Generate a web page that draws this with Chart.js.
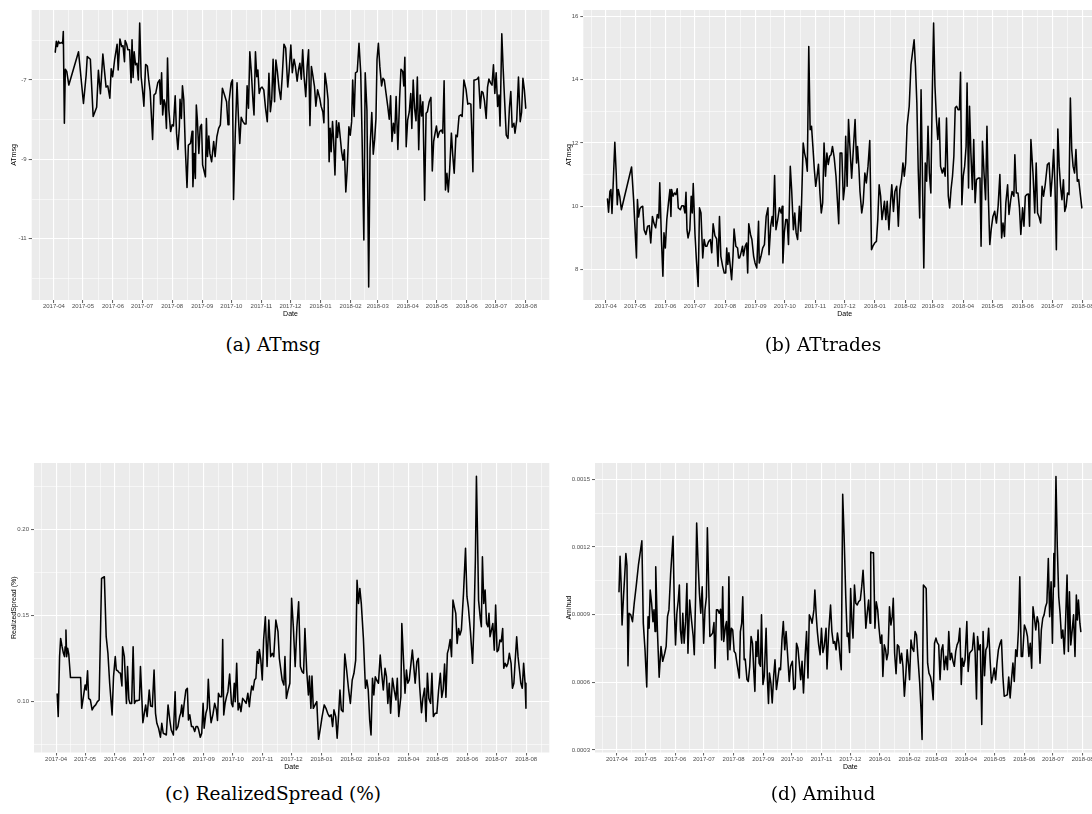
<!DOCTYPE html>
<html><head><meta charset="utf-8">
<script src="https://cdn.jsdelivr.net/npm/chart.js@4.4.1/dist/chart.umd.min.js"></script>
<style>
html,body{margin:0;padding:0;background:#fff;overflow:hidden;}
#wrap{position:relative;width:1092px;height:814px;overflow:hidden;background:#fff;}
canvas{position:absolute;}
.cap{position:absolute;width:546px;text-align:center;font-family:"DejaVu Serif",serif;font-size:18.5px;line-height:22px;color:#000;}
</style></head>
<body><div id="wrap">
<canvas id="ca" width="560" height="330" style="left:0px;top:0px"></canvas>
<canvas id="cb" width="570" height="330" style="left:546px;top:0px"></canvas>
<canvas id="cc" width="560" height="330" style="left:0px;top:450px"></canvas>
<canvas id="cd" width="570" height="330" style="left:546px;top:450px"></canvas>
<div class="cap" style="left:0px;top:334px">(a) ATmsg</div>
<div class="cap" style="left:550px;top:334px">(b) ATtrades</div>
<div class="cap" style="left:0px;top:783px">(c) RealizedSpread (%)</div>
<div class="cap" style="left:550px;top:783px">(d) Amihud</div>
</div>
<script>
// ---- time axis (days since 2017-04-01) ----
const monthDays = [0,30,61,91,122,153,183,214,244,275,306,334,365,395,426,456,487];
const monthLabels = ['2017-04','2017-05','2017-06','2017-07','2017-08','2017-09','2017-10','2017-11','2017-12','2018-01','2018-02','2018-03','2018-04','2018-05','2018-06','2018-07','2018-08'];

// ---- (a) ATmsg ----
const aDays = [1.4,2.5,3.6,4.7,6.1,7.9,9.0,9.7,10.8,11.8,13.3,15.4,25.4,30.5,33.3,34.4,37.6,40.5,44.1,45.9,48.0,50.5,53.8,55.6,57.7,59.1,60.6,62.7,65.2,66.3,68.1,69.9,71.3,72.8,73.5,74.9,76.3,78.1,79.6,80.6,81.7,82.8,84.2,85.7,87.1,88.5,90.0,91.8,92.8,94.6,96.4,97.8,99.3,101.8,103.2,105.0,107.2,109.0,110.0,111.1,112.2,113.6,114.7,116.1,117.2,118.6,120.4,121.9,123.3,125.1,126.5,127.9,129.4,130.1,131.5,132.6,134.0,135.5,137.3,138.7,140.9,142.6,143.4,144.8,145.9,146.9,148.0,149.5,150.9,152.3,153.4,156.3,157.3,158.4,159.8,160.9,162.7,164.8,166.3,168.1,169.9,171.7,173.8,175.6,178.1,179.6,180.6,182.8,184.2,185.3,187.1,188.9,190.3,191.7,193.2,195.0,196.8,198.2,199.3,200.7,202.1,203.6,205.4,206.4,207.9,209.3,210.4,211.8,213.2,214.7,216.5,218.3,220.1,221.8,223.3,224.7,226.1,227.6,229.0,230.5,232.2,234.0,235.5,237.3,239.1,241.2,242.6,244.4,245.9,247.7,249.1,250.9,252.3,253.7,255.2,256.6,258.0,259.8,261.3,262.7,264.1,265.6,267.0,268.8,270.2,272.0,274.2,275.6,277.4,278.5,279.6,281.3,282.8,283.9,284.9,286.0,287.4,288.5,289.9,291.4,292.5,293.9,295.3,296.8,298.2,299.6,301.1,302.5,304.3,305.7,307.1,308.2,309.7,311.1,312.9,314.7,316.5,317.9,319.7,321.1,322.9,324.7,326.1,327.9,329.4,330.8,332.2,333.3,334.7,336.2,338.0,339.4,340.8,342.6,344.4,345.9,347.3,348.7,350.2,351.6,353.0,354.8,356.6,358.0,359.8,360.9,362.0,363.4,364.9,366.6,368.1,369.2,370.6,372.0,373.5,374.9,376.3,377.8,379.2,380.6,382.4,383.9,385.3,387.1,388.9,390.3,391.7,393.2,394.6,396.0,397.8,399.6,401.1,402.5,403.9,405.4,406.8,408.2,410.0,411.4,412.9,414.7,416.1,417.9,419.7,421.1,422.9,425.1,426.9,428.3,430.1,431.2,432.2,433.3,434.7,436.5,438.0,439.8,441.2,442.6,444.1,445.9,447.3,448.7,450.5,451.9,453.4,454.8,456.2,457.7,459.1,460.2,462.0,463.4,464.8,466.6,468.4,469.9,471.3,472.7,474.5,475.6,477.4,479.2,481.0,482.4,483.8,485.3,486.7];
const aVals = [-6.30,-6.03,-6.16,-6.03,-6.08,-6.06,-6.08,-5.78,-8.09,-6.73,-6.79,-7.13,-6.29,-7.59,-6.87,-6.41,-6.48,-7.92,-7.69,-6.76,-7.35,-6.35,-7.18,-7.15,-7.46,-6.72,-6.92,-6.48,-6.10,-6.75,-5.97,-6.16,-6.14,-6.54,-6.01,-6.09,-6.24,-6.24,-7.07,-5.99,-6.94,-6.29,-6.62,-6.58,-7.00,-5.57,-6.92,-7.35,-7.66,-6.61,-6.65,-7.00,-7.29,-8.50,-7.38,-7.34,-7.07,-7.00,-7.61,-6.82,-7.88,-7.50,-7.59,-8.22,-6.45,-7.76,-8.30,-8.13,-8.16,-7.40,-8.34,-8.75,-8.18,-7.49,-7.97,-7.15,-7.50,-8.68,-9.71,-8.64,-8.60,-8.29,-9.69,-8.85,-9.48,-7.63,-8.01,-8.85,-8.18,-8.12,-9.14,-9.44,-7.97,-8.93,-8.41,-8.85,-9.06,-8.55,-8.93,-8.43,-8.22,-8.13,-7.21,-7.35,-7.55,-8.13,-7.55,-7.08,-7.00,-10.01,-8.34,-7.07,-7.92,-8.60,-7.94,-8.05,-8.11,-8.11,-7.15,-7.71,-6.29,-6.79,-7.55,-7.88,-6.29,-6.92,-6.75,-7.34,-7.21,-7.18,-7.25,-7.71,-8.05,-6.83,-7.80,-7.49,-6.48,-7.55,-6.50,-6.79,-7.21,-7.49,-6.92,-6.10,-6.20,-7.18,-6.79,-6.12,-6.82,-6.48,-6.66,-7.03,-6.75,-6.58,-6.98,-6.24,-6.90,-7.42,-6.65,-6.24,-8.15,-6.66,-6.87,-7.17,-7.66,-7.25,-7.46,-7.66,-7.80,-8.08,-6.83,-7.13,-7.50,-9.06,-8.22,-8.81,-8.05,-8.51,-9.39,-8.03,-8.45,-8.08,-8.43,-8.81,-9.02,-8.76,-9.82,-9.27,-8.18,-8.39,-8.05,-7.00,-7.92,-6.82,-6.79,-6.08,-6.82,-8.47,-11.03,-6.82,-7.76,-12.21,-8.72,-7.82,-8.87,-8.51,-7.97,-6.48,-6.08,-6.66,-7.15,-6.96,-7.00,-7.34,-7.67,-7.99,-7.40,-8.55,-8.09,-8.34,-7.42,-8.75,-7.46,-6.73,-6.79,-7.15,-6.43,-8.68,-8.01,-7.80,-7.34,-8.22,-7.00,-7.71,-8.03,-6.93,-8.76,-7.38,-7.91,-7.55,-10.03,-7.84,-7.80,-7.55,-7.44,-9.29,-8.55,-8.34,-8.16,-8.45,-8.30,-8.26,-8.34,-7.02,-9.77,-9.35,-9.82,-9.27,-8.34,-8.89,-9.35,-8.39,-8.43,-7.91,-7.88,-7.92,-7.00,-7.24,-7.61,-7.59,-7.61,-8.43,-9.31,-7.00,-7.00,-6.98,-6.93,-7.71,-7.29,-7.32,-7.52,-7.97,-7.18,-6.98,-7.08,-7.13,-6.62,-7.34,-6.82,-7.67,-7.38,-8.16,-5.84,-6.71,-7.46,-8.39,-8.47,-7.69,-7.29,-8.19,-8.09,-8.34,-8.01,-6.93,-8.05,-7.82,-6.96,-7.25,-7.71];
const aYMajor = [-11,-9,-7];
const aYLabels = ['-11','-9','-7'];
const aYMinor = [-12,-10,-8,-6];

// ---- (b) ATtrades ----
const bDays = [1.8,2.9,4.3,5.3,6.4,7.8,9.3,10.7,11.8,12.8,14.3,16.0,26.4,28.5,31.4,32.4,33.5,34.9,36.3,37.8,39.2,41.0,42.8,44.5,46.0,47.7,49.2,51.0,52.7,54.2,55.2,57.0,58.4,59.5,60.9,62.4,64.1,65.6,66.6,67.3,68.8,70.2,71.6,73.0,74.1,76.2,77.7,79.5,80.9,82.0,83.0,84.1,85.9,87.3,88.4,89.4,91.2,92.6,94.4,95.8,97.3,99.1,100.5,101.9,103.3,105.1,106.9,108.3,109.7,111.5,113.3,114.7,116.2,117.6,119.4,121.1,122.6,123.6,124.7,125.8,127.2,128.6,130.0,131.1,132.9,134.7,135.7,136.8,138.2,139.7,140.7,142.5,143.9,145.0,146.1,147.9,149.3,151.1,152.5,154.3,156.1,156.8,158.6,160.3,162.1,163.9,165.7,166.8,168.5,170.0,171.0,172.5,173.9,175.7,177.4,179.2,180.3,181.0,182.4,183.9,185.3,186.7,188.5,189.9,191.7,193.1,194.5,196.0,197.8,199.2,200.6,201.7,203.1,204.5,205.9,207.4,208.8,210.2,211.6,213.1,214.5,215.9,217.3,218.8,220.2,221.6,223.0,224.5,225.9,227.3,228.7,230.2,231.6,233.4,235.2,236.6,238.0,239.4,241.2,242.7,244.1,245.1,246.6,248.0,249.4,251.2,253.0,254.7,256.2,257.2,258.7,259.7,261.5,263.0,264.7,266.2,267.9,269.7,271.5,272.9,274.7,276.5,277.9,279.3,280.8,282.2,283.6,284.7,286.1,287.5,289.3,290.7,292.2,293.9,295.4,297.2,298.9,300.4,302.1,303.6,305.0,306.4,307.8,310.0,311.8,313.5,315.0,316.4,317.8,319.2,320.7,322.1,323.5,324.9,326.4,327.8,329.2,330.6,332.1,333.5,334.9,336.3,337.8,339.2,340.6,342.0,343.8,345.3,346.7,348.1,349.9,351.3,352.7,354.2,355.6,357.0,358.4,359.9,361.3,362.4,363.8,365.2,366.6,368.1,369.1,370.6,371.6,373.0,374.5,375.9,377.3,378.7,380.5,382.3,383.4,384.8,386.6,388.0,389.4,390.9,392.3,393.7,395.5,397.3,399.1,400.8,402.6,404.4,405.8,407.3,408.7,410.5,411.9,413.7,415.1,416.9,417.9,419.4,421.1,422.6,424.0,425.8,427.2,428.6,430.1,431.8,432.9,434.3,436.5,438.2,439.7,441.1,442.5,444.3,445.7,447.2,448.9,451.1,452.9,454.6,456.1,457.5,458.9,460.3,461.8,463.2,464.6,466.0,467.5,468.9,470.3,471.7,473.2,474.6,476.0,477.4,478.9,480.3,481.7,483.1,484.6,486.3];
const bVals = [10.23,9.81,10.47,10.53,9.77,10.84,12.02,11.05,10.05,10.53,10.32,9.89,11.24,10.21,8.37,10.21,9.66,9.92,9.98,10.0,9.26,9.11,9.37,9.39,8.84,9.68,9.47,9.32,9.74,9.63,10.74,8.89,7.79,9.16,8.68,9.58,10.11,10.53,9.68,10.53,10.32,10.42,10.37,10.55,9.95,9.89,10.02,10.02,9.79,10.44,9.26,9.00,9.26,10.32,9.79,10.72,9.11,8.32,7.47,9.95,9.79,8.37,8.95,8.74,8.74,8.89,8.95,8.53,9.45,9.07,8.97,8.11,9.68,8.42,8.11,7.89,7.89,8.68,8.16,8.53,8.11,7.68,8.42,9.28,8.74,8.68,8.37,8.37,8.53,8.74,8.44,8.74,8.84,7.89,9.45,9.11,8.95,8.42,8.21,8.05,9.53,8.21,8.42,8.68,8.79,9.68,9.95,8.47,9.37,9.68,9.37,10.97,9.26,9.58,9.95,9.79,10.0,8.21,9.16,9.58,9.58,8.79,11.26,10.53,9.26,9.79,9.16,8.95,10.0,9.21,10.74,12.0,11.68,11.49,11.11,15.05,12.42,12.53,11.89,11.16,10.63,10.95,11.33,10.42,9.79,10.11,12.0,10.95,11.68,11.32,11.58,11.63,11.89,11.53,10.95,10.21,9.45,11.68,11.68,10.21,10.63,12.21,10.63,12.74,11.89,10.89,11.84,12.74,11.37,11.89,11.16,10.47,9.79,10.11,11.05,10.74,11.26,12.08,8.63,8.74,8.84,8.89,9.58,10.68,10.32,9.58,9.89,10.16,9.58,10.16,9.26,10.05,10.68,9.84,10.47,10.63,9.37,10.53,10.84,11.37,10.95,11.37,12.53,13.16,14.47,14.89,15.26,14.42,13.26,11.16,9.63,13.68,10.95,8.05,11.37,10.79,12.53,11.05,10.42,13.47,15.79,13.79,12.74,12.11,12.79,11.26,11.05,11.21,10.95,12.79,10.32,9.95,10.53,10.95,11.58,13.11,13.16,13.05,13.05,14.23,10.05,10.95,11.26,11.89,13.89,10.58,13.16,11.68,10.53,12.11,10.11,10.84,10.89,10.89,8.74,12.05,10.95,10.21,12.53,10.21,8.79,9.26,9.68,9.84,9.47,10.0,11.0,9.0,9.47,9.05,10.11,10.68,9.74,10.21,10.47,10.32,11.63,10.42,10.42,9.95,9.11,9.95,9.37,10.32,10.37,10.39,9.37,12.11,11.0,9.79,11.37,9.79,9.68,9.47,10.63,10.32,10.68,11.32,11.37,10.32,10.95,11.79,10.63,8.63,12.44,11.26,10.63,10.21,10.84,9.84,10.0,10.42,10.37,13.42,11.79,11.26,11.05,11.79,10.79,10.84,10.42,9.95];
const bYMajor = [8,10,12,14,16];
const bYLabels = ['8','10','12','14','16'];
const bYMinor = [9,11,13,15];

// ---- (c) RealizedSpread (%) ----
const cDays = [1.1,2.2,3.6,4.7,6.2,7.6,8.7,9.4,10.2,10.9,12.0,13.1,14.9,25.4,26.5,28.3,30.1,31.2,32.6,33.7,35.5,37.3,39.2,41.0,42.8,44.6,47.1,50.0,51.9,53.7,55.5,58.0,59.5,61.3,62.4,63.8,65.3,66.7,68.2,68.9,70.7,72.9,74.0,75.4,76.5,78.3,79.8,81.2,82.7,84.5,86.3,87.4,88.5,89.9,91.4,92.8,94.3,95.4,96.5,97.9,99.7,101.5,103.0,104.4,106.2,108.1,109.5,111.0,112.4,114.2,116.0,117.8,119.3,121.5,123.3,124.4,126.2,128.0,129.1,130.2,131.3,132.7,134.5,136.0,137.1,138.5,140.3,141.8,143.6,145.0,146.5,147.6,149.4,150.9,152.3,153.4,155.2,156.6,157.7,159.2,160.6,162.4,164.3,166.1,167.2,168.2,169.7,171.5,172.6,173.7,175.1,176.6,178.0,179.8,181.7,183.1,184.6,185.6,187.1,188.6,190.0,191.5,193.3,195.1,196.9,198.7,200.2,201.2,202.7,204.1,205.6,207.0,208.5,209.6,210.6,212.1,213.6,215.0,216.8,218.6,220.4,222.3,224.1,225.5,227.7,229.9,231.3,234.2,236.0,237.1,238.6,240.4,242.2,244.0,245.8,247.7,249.5,251.3,253.1,254.9,256.4,257.8,259.6,261.4,262.5,264.0,265.1,266.5,268.3,270.1,271.9,273.8,275.6,277.8,279.6,281.4,283.2,285.0,286.5,287.9,289.7,291.2,292.6,294.1,295.5,297.3,299.1,301.0,303.1,304.9,306.8,308.6,310.4,311.8,313.3,314.7,316.2,318.4,320.5,322.0,323.4,324.9,326.3,327.8,329.2,330.7,332.1,334.0,335.8,337.2,339.0,340.8,342.3,343.7,345.2,346.6,348.5,350.3,352.1,353.5,355.0,357.2,358.2,360.1,361.5,363.0,364.4,365.9,367.7,369.1,370.6,372.0,373.8,375.3,376.7,378.6,380.0,381.8,383.3,384.7,386.2,388.0,389.4,390.9,392.7,394.5,396.3,398.1,399.6,401.0,402.5,403.9,405.4,406.8,408.3,409.7,411.2,412.6,414.1,415.5,417.0,418.4,419.9,422.1,424.2,425.7,427.1,429.3,431.5,432.9,434.4,435.5,436.6,437.7,439.5,440.6,441.7,443.1,444.5,446.0,447.4,448.5,449.6,451.1,452.5,454.0,455.4,456.9,458.3,459.8,461.2,462.7,463.8,465.2,466.7,468.1,469.6,471.4,472.8,474.3,475.7,477.2,478.6,480.1,481.5,483.0,484.4,485.9,486.8];
const cVals = [0.1043,0.0911,0.1260,0.1366,0.1318,0.1279,0.1260,0.1318,0.1415,0.1260,0.1308,0.1275,0.1138,0.1138,0.0959,0.1027,0.1095,0.1066,0.1178,0.1017,0.1008,0.0950,0.0969,0.0979,0.0998,0.1008,0.1715,0.1725,0.1376,0.1279,0.1105,0.0921,0.1143,0.1260,0.1182,0.1178,0.1167,0.1163,0.1089,0.1318,0.1260,0.0988,0.1202,0.1012,0.0988,0.0988,0.1318,0.0988,0.1004,0.1004,0.1008,0.1202,0.1066,0.0876,0.0930,0.0979,0.0911,0.0988,0.1066,0.0973,0.0969,0.1182,0.0930,0.0872,0.0843,0.0791,0.0872,0.0814,0.0810,0.0804,0.0979,0.0891,0.0833,0.0804,0.1056,0.0833,0.0853,0.0911,0.0930,0.0979,0.0911,0.0988,0.1066,0.1076,0.0891,0.0921,0.0853,0.0853,0.0824,0.0853,0.0853,0.0837,0.0791,0.0814,0.0988,0.0843,0.0930,0.0959,0.1128,0.0959,0.0876,0.0921,0.0988,0.0950,0.0888,0.1047,0.1027,0.1027,0.1360,0.0921,0.0988,0.1027,0.1056,0.1159,0.0988,0.0969,0.1105,0.0998,0.1221,0.0950,0.0988,0.0940,0.1017,0.1004,0.0988,0.1047,0.0969,0.1027,0.1089,0.1066,0.1124,0.1134,0.1289,0.1221,0.1302,0.1240,0.1124,0.1357,0.1492,0.1202,0.1473,0.1260,0.1279,0.1260,0.1473,0.1405,0.1250,0.1124,0.1095,0.1260,0.1017,0.1066,0.1105,0.1599,0.1434,0.1202,0.1434,0.1579,0.1202,0.1172,0.1163,0.1424,0.1182,0.1037,0.1147,0.0959,0.1147,0.0959,0.0979,0.0998,0.0779,0.0843,0.0911,0.0979,0.0959,0.0930,0.0911,0.0921,0.0853,0.0950,0.0911,0.0785,0.0911,0.1066,0.0950,0.0940,0.1275,0.1182,0.1066,0.0988,0.1124,0.1163,0.1240,0.1705,0.1570,0.1657,0.1570,0.1366,0.1076,0.1124,0.1066,0.0891,0.0804,0.1134,0.1037,0.1143,0.1124,0.1105,0.1269,0.1172,0.1066,0.1192,0.1143,0.0988,0.1105,0.0930,0.1134,0.1066,0.1008,0.1134,0.0911,0.1027,0.1453,0.1221,0.1047,0.1182,0.1105,0.1124,0.1221,0.1298,0.1202,0.1105,0.1231,0.1250,0.1085,0.0934,0.1017,0.1076,0.0882,0.1163,0.1017,0.0988,0.1163,0.0911,0.0930,0.0930,0.1066,0.1163,0.1023,0.1066,0.1217,0.1023,0.1279,0.1308,0.1360,0.1260,0.1589,0.1550,0.1512,0.1337,0.1424,0.1386,0.1415,0.1628,0.1890,0.1609,0.1550,0.1405,0.1221,0.1444,0.1822,0.2310,0.1977,0.1589,0.1483,0.1434,0.1841,0.1570,0.1647,0.1453,0.1434,0.1512,0.1376,0.1415,0.1453,0.1298,0.1560,0.1289,0.1298,0.1357,0.1347,0.1424,0.1192,0.1221,0.1202,0.1221,0.1279,0.1221,0.1076,0.1105,0.1240,0.1376,0.1260,0.1182,0.1105,0.1076,0.1221,0.1105,0.0959];
const cYMajor = [0.10,0.15,0.20];
const cYLabels = ['0.10','0.15','0.20'];
const cYMinor = [0.075,0.125,0.175,0.225];

// ---- (d) Amihud ----
const dDays = [2.2,3.3,4.4,5.4,6.9,8.0,9.4,10.5,11.6,12.7,14.5,16.3,18.1,20.3,22.5,24.7,26.1,27.6,29.4,31.2,32.6,33.7,34.8,36.3,37.7,38.8,39.9,40.6,42.4,44.2,46.1,47.9,50.0,51.5,52.9,54.4,56.2,58.7,60.2,61.3,62.7,64.2,65.3,66.4,67.8,68.9,70.3,71.8,73.2,74.3,76.1,78.0,79.8,80.9,82.3,83.4,84.8,86.3,87.7,89.2,90.7,92.1,93.6,94.6,96.1,97.2,98.6,100.1,101.5,102.6,104.1,105.5,107.0,108.4,109.5,110.6,111.7,113.5,114.6,116.0,117.1,118.2,119.7,121.1,122.6,124.0,125.5,126.9,128.0,129.1,130.5,131.6,133.1,134.2,136.0,137.4,138.9,140.3,141.8,143.2,144.3,145.4,146.5,147.6,148.7,150.1,151.2,152.7,154.1,156.0,157.4,158.5,159.5,161.0,162.4,163.9,165.3,166.8,168.2,169.7,171.1,172.6,174.0,175.5,176.9,178.4,180.2,181.6,183.5,184.9,186.4,187.8,189.3,190.7,192.2,193.6,195.1,196.9,198.3,199.8,201.2,202.7,204.1,206.0,207.0,208.5,209.6,211.0,212.5,213.9,215.4,216.8,218.7,219.7,221.5,223.4,224.8,226.3,227.7,229.2,230.6,232.1,233.5,234.6,236.1,237.5,239.3,240.8,241.9,243.3,244.4,245.8,246.9,248.4,249.8,251.3,252.7,254.5,256.0,257.4,258.9,260.3,261.8,263.2,264.7,265.4,266.9,268.3,269.8,271.2,272.7,274.1,275.6,277.0,278.1,279.6,281.0,282.1,283.5,285.0,286.5,287.9,289.0,290.4,291.9,293.3,294.8,296.2,297.7,299.1,300.6,302.0,303.5,304.9,306.0,307.5,308.9,310.4,311.8,313.3,314.7,316.6,318.0,319.1,320.5,322.0,323.4,324.9,326.3,327.8,329.2,330.7,332.1,333.6,335.0,336.5,337.9,339.4,340.8,342.3,344.1,345.6,347.0,348.5,349.9,351.4,352.8,354.3,355.7,357.2,358.6,360.1,361.1,362.6,364.0,365.9,367.3,368.8,370.2,371.7,373.1,374.6,376.0,377.1,378.6,380.0,381.5,382.9,384.4,385.8,387.3,388.7,390.2,391.6,393.1,394.5,396.0,397.4,398.9,400.7,402.1,403.6,405.0,406.5,408.3,409.7,411.2,412.6,414.1,415.5,417.0,418.4,419.9,421.3,422.8,424.2,426.1,427.9,429.3,430.8,432.2,433.7,435.1,436.6,438.0,439.5,440.9,442.4,443.8,445.3,446.7,448.2,449.6,451.1,452.5,454.0,455.4,456.9,457.6,459.1,460.5,462.0,463.4,464.9,466.3,467.8,469.2,470.7,472.1,473.2,474.6,476.1,477.5,479.0,480.4,481.5,482.6,484.1,485.1];
const dVals = [10.01e-4,11.59e-4,10.38e-4,8.54e-4,9.79e-4,10.60e-4,11.71e-4,11.19e-4,6.73e-4,9.06e-4,8.99e-4,8.69e-4,9.50e-4,10.31e-4,11.19e-4,11.85e-4,12.27e-4,8.62e-4,7.44e-4,5.79e-4,8.91e-4,8.40e-4,10.09e-4,9.50e-4,8.69e-4,9.21e-4,8.25e-4,11.12e-4,8.25e-4,6.23e-4,7.59e-4,6.93e-4,7.29e-4,7.59e-4,8.91e-4,9.21e-4,10.82e-4,12.47e-4,9.06e-4,7.66e-4,9.06e-4,9.65e-4,10.31e-4,8.32e-4,7.73e-4,9.06e-4,7.73e-4,8.69e-4,10.38e-4,7.29e-4,9.65e-4,8.76e-4,8.03e-4,7.22e-4,9.79e-4,13.06e-4,11.41e-4,9.94e-4,9.06e-4,10.24e-4,7.73e-4,9.21e-4,9.79e-4,12.85e-4,10.09e-4,8.03e-4,8.10e-4,8.18e-4,8.65e-4,6.63e-4,9.21e-4,9.21e-4,9.06e-4,9.24e-4,7.88e-4,10.24e-4,7.81e-4,8.47e-4,8.69e-4,7.00e-4,10.68e-4,7.44e-4,8.40e-4,8.32e-4,7.37e-4,7.29e-4,6.85e-4,6.48e-4,6.19e-4,8.25e-4,8.62e-4,9.79e-4,7.00e-4,7.03e-4,6.12e-4,6.04e-4,6.71e-4,8.03e-4,7.73e-4,6.44e-4,5.60e-4,7.81e-4,7.15e-4,8.32e-4,6.85e-4,6.71e-4,8.99e-4,5.90e-4,6.26e-4,8.40e-4,6.12e-4,5.06e-4,6.41e-4,5.97e-4,5.09e-4,6.26e-4,7.00e-4,5.68e-4,6.12e-4,6.63e-4,6.56e-4,7.88e-4,8.69e-4,7.44e-4,8.25e-4,7.29e-4,6.04e-4,6.71e-4,6.93e-4,5.68e-4,5.75e-4,7.73e-4,7.51e-4,6.85e-4,6.12e-4,6.93e-4,5.53e-4,7.22e-4,8.25e-4,6.19e-4,8.99e-4,8.84e-4,8.62e-4,9.21e-4,10.09e-4,8.91e-4,8.25e-4,7.66e-4,7.22e-4,8.40e-4,7.32e-4,7.59e-4,8.40e-4,6.59e-4,8.25e-4,9.43e-4,8.25e-4,7.73e-4,7.81e-4,7.44e-4,8.18e-4,7.73e-4,7.00e-4,6.56e-4,14.33e-4,12.59e-4,9.79e-4,8.03e-4,8.18e-4,7.32e-4,10.16e-4,8.62e-4,7.96e-4,10.31e-4,9.50e-4,9.43e-4,9.57e-4,9.65e-4,10.24e-4,10.97e-4,9.79e-4,8.40e-4,9.09e-4,9.65e-4,8.62e-4,11.78e-4,11.74e-4,11.74e-4,8.40e-4,9.57e-4,9.21e-4,8.40e-4,7.73e-4,8.10e-4,6.26e-4,7.66e-4,7.44e-4,7.00e-4,7.29e-4,9.35e-4,8.54e-4,8.91e-4,9.72e-4,7.29e-4,6.38e-4,7.66e-4,7.59e-4,6.85e-4,7.29e-4,6.71e-4,5.38e-4,6.26e-4,7.44e-4,6.78e-4,6.12e-4,7.88e-4,7.51e-4,7.37e-4,8.25e-4,8.10e-4,7.15e-4,5.97e-4,4.79e-4,3.47e-4,10.31e-4,10.24e-4,10.16e-4,6.85e-4,6.41e-4,6.26e-4,5.97e-4,5.23e-4,7.73e-4,7.96e-4,7.76e-4,7.66e-4,6.12e-4,7.44e-4,7.66e-4,6.56e-4,7.15e-4,6.56e-4,8.25e-4,7.00e-4,7.29e-4,6.93e-4,6.71e-4,7.37e-4,7.66e-4,7.81e-4,8.40e-4,5.90e-4,7.07e-4,6.71e-4,7.00e-4,8.69e-4,6.48e-4,7.29e-4,7.37e-4,7.44e-4,8.18e-4,7.29e-4,5.26e-4,8.03e-4,7.44e-4,7.66e-4,4.13e-4,8.25e-4,6.29e-4,7.44e-4,7.59e-4,8.40e-4,7.00e-4,5.97e-4,6.26e-4,6.63e-4,6.12e-4,6.85e-4,7.44e-4,7.73e-4,7.88e-4,6.26e-4,5.38e-4,5.41e-4,5.45e-4,6.23e-4,5.31e-4,6.12e-4,6.85e-4,6.04e-4,7.44e-4,7.15e-4,8.32e-4,10.68e-4,7.15e-4,7.15e-4,8.54e-4,8.32e-4,8.03e-4,7.15e-4,7.73e-4,6.63e-4,9.35e-4,8.84e-4,8.32e-4,8.91e-4,8.62e-4,6.85e-4,8.32e-4,8.84e-4,8.99e-4,9.35e-4,9.53e-4,11.49e-4,8.91e-4,10.46e-4,7.73e-4,11.71e-4,10.24e-4,15.12e-4,12.00e-4,9.79e-4,9.06e-4,7.96e-4,8.32e-4,7.26e-4,8.76e-4,10.75e-4,7.37e-4,10.01e-4,7.66e-4,8.32e-4,8.99e-4,7.15e-4,9.87e-4,8.76e-4,9.65e-4,8.62e-4,8.25e-4];
const dYMajor = [0.0003,0.0006,0.0009,0.0012,0.0015];
const dYLabels = ['0.0003','0.0006','0.0009','0.0012','0.0015'];
const dYMinor = [0.00045,0.00075,0.00105,0.00135];

// ---------------------------------------------------------------
const TICK_FONT = {family:'"Liberation Sans", Arial, sans-serif', size:6};
const TITLE_FONT = {family:'"Liberation Sans", Arial, sans-serif', size:7};

const bgPlugin = {
  id:'panelBg',
  beforeDraw(chart){
    const {ctx, chartArea:a} = chart;
    ctx.save();
    ctx.fillStyle = '#EBEBEB';
    ctx.fillRect(a.left, a.top, a.right - a.left, a.bottom - a.top);
    ctx.restore();
  }
};

function tickList(major, labels, minor){
  const t = major.map((v,i)=>({value:v, lbl:labels[i]})).concat(minor.map(v=>({value:v, lbl:''})));
  t.sort((p,q)=>p.value-q.value);
  return t;
}
function xTickList(){
  const minor = [];
  minor.push(monthDays[0] - (monthDays[1]-monthDays[0])/2);
  for (let i=0;i<monthDays.length-1;i++) minor.push((monthDays[i]+monthDays[i+1])/2);
  minor.push(monthDays[monthDays.length-1] + 15.5);
  return tickList(monthDays, monthLabels, minor);
}
const gridCommon = {
  color: c => '#FFFFFF',
  lineWidth: c => (c.tick && c.tick.label) ? 1.1 : 0.55,
  tickColor: c => (c.tick && c.tick.label) ? '#333333' : 'rgba(0,0,0,0)',
  tickWidth: 0.8,
  tickLength: 3,
  drawTicks: true,
  drawOnChartArea: true
};

function makePanel(id, days, vals, p){
  const n = Math.min(days.length, vals.length);
  const pts = [];
  for (let i=0;i<n;i++) pts.push({x:days[i], y:vals[i]});
  new Chart(document.getElementById(id), {
    type:'line',
    data:{datasets:[{data:pts, borderColor:'#000000', borderWidth:1.55, pointRadius:0, fill:false, tension:0, borderJoinStyle:'round', borderCapStyle:'round'}]},
    options:{
      responsive:false, animation:false, devicePixelRatio:1, events:[],
      layout:{padding:{left:0, top:p.padTop, right:p.padRight, bottom:0}},
      plugins:{legend:{display:false}, tooltip:{enabled:false}},
      scales:{
        x:{type:'linear', min:-22.9, max:511,
          afterBuildTicks: s => { s.ticks = xTickList(); },
          afterFit: s => { s.height = p.xHeight; },
          ticks:{autoSkip:false, maxRotation:0, minRotation:0, padding:0, color:'#4D4D4D', font:TICK_FONT,
                 callback:(v,i,t)=>t[i].lbl},
          grid:gridCommon, border:{display:false},
          title:{display:true, text:'Date', color:'#000', font:TITLE_FONT, padding:{top:0,bottom:p.xTitlePad}}
        },
        y:{type:'linear', min:p.yMin, max:p.yMax,
          afterBuildTicks: s => { s.ticks = tickList(p.yMajor, p.yLabels, p.yMinor); },
          afterFit: s => { s.width = p.yWidth; },
          ticks:{autoSkip:false, padding:2, color:'#4D4D4D', font:TICK_FONT, callback:(v,i,t)=>t[i].lbl},
          grid:gridCommon, border:{display:false},
          title:{display:true, text:p.yTitle, color:'#000', font:TITLE_FONT, padding:{top:p.yTitlePad,bottom:0}}
        }
      }
    },
    plugins:[bgPlugin]
  });
}

makePanel('ca', aDays, aVals, {yMin:-12.54, yMax:-5.24, yMajor:aYMajor, yLabels:aYLabels, yMinor:aYMinor, yTitle:'ATmsg',
  yWidth:31.7, padTop:10, padRight:10.7, xHeight:30, yTitlePad:9.8, xTitlePad:11.8});
makePanel('cb', bDays, bVals, {yMin:7.04, yMax:16.2, yMajor:bYMajor, yLabels:bYLabels, yMinor:bYMinor, yTitle:'ATmsg',
  yWidth:37.3, padTop:10, padRight:10, xHeight:30, yTitlePad:18.8, xTitlePad:11.8});
makePanel('cc', cDays, cVals, {yMin:0.0702, yMax:0.2387, yMajor:cYMajor, yLabels:cYLabels, yMinor:cYMinor, yTitle:'RealizedSpread (%)',
  yWidth:34, padTop:13, padRight:10.7, xHeight:27.5, yTitlePad:9.8, xTitlePad:8.8});
makePanel('cd', dDays, dVals, {yMin:0.000289, yMax:0.001572, yMajor:dYMajor, yLabels:dYLabels, yMinor:dYMinor, yTitle:'Amihud',
  yWidth:49, padTop:13, padRight:10.4, xHeight:27.5, yTitlePad:18.8, xTitlePad:8.8});
</script>
</body></html>
